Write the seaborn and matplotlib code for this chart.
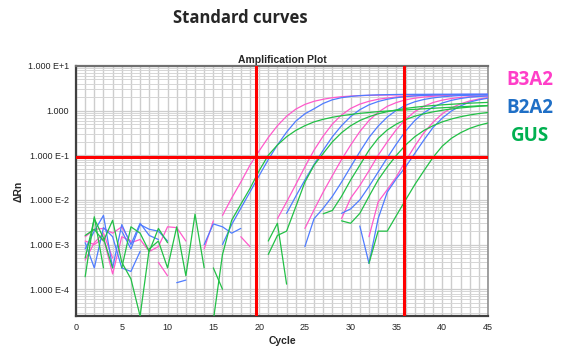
import pandas as pd
import numpy as np
import seaborn as sns
import matplotlib.pyplot as plt
from matplotlib.ticker import MultipleLocator, LogLocator, FixedLocator, FixedFormatter, NullFormatter

# colours of the three assays
pal = {'B3A2': '#ff5acb', 'B2A2': '#4f7cff', 'GUS': '#22c046'}
label_col = {'B3A2': '#ff3ec8', 'B2A2': '#1f6fc6', 'GUS': '#00b050'}

# amplification curves, (start cycle, values)
b3a2_1 = (16, [0.0045, 0.011, 0.025, 0.06, 0.125, 0.25, 0.46, 0.75, 1.08, 1.38, 1.62, 1.8, 1.95, 2.05,
               2.12, 2.17, 2.2, 2.22, 2.24, 2.25, 2.26, 2.27, 2.28, 2.28, 2.29, 2.29, 2.3, 2.3, 2.3, 2.3])
b3a2_2 = (22, [0.0038, 0.009, 0.022, 0.055, 0.13, 0.27, 0.5, 0.8, 1.12, 1.4, 1.62, 1.8, 1.92, 2.02,
               2.1, 2.15, 2.19, 2.22, 2.24, 2.26, 2.27, 2.28, 2.29, 2.3])
b3a2_3 = (25, [0.0023, 0.006, 0.015, 0.035, 0.08, 0.17, 0.34, 0.6, 0.92, 1.25, 1.52, 1.75, 1.9, 2.02,
               2.1, 2.16, 2.2, 2.23, 2.25, 2.27, 2.28])
b3a2_4 = (29, [0.0038, 0.011, 0.021, 0.045, 0.1, 0.2, 0.38, 0.64, 0.95, 1.25, 1.52, 1.72, 1.87, 1.98,
               2.05, 2.1, 2.13])
b3a2_5 = (32, [0.0015, 0.009, 0.017, 0.033, 0.075, 0.16, 0.32, 0.55, 0.85, 1.15, 1.42, 1.65, 1.82, 1.95])

b2a2_1 = (16, [0.001, 0.0028, 0.0065, 0.015, 0.035, 0.08, 0.17, 0.33, 0.58, 0.85, 1.1, 1.45, 1.75, 1.95,
               2.08, 2.17, 2.22, 2.26, 2.28, 2.3, 2.31, 2.32, 2.32, 2.33, 2.33, 2.33, 2.33, 2.33, 2.33, 2.33])
b2a2_2 = (23, [0.005, 0.012, 0.028, 0.062, 0.13, 0.26, 0.46, 0.74, 1.05, 1.35, 1.6, 1.8, 1.95, 2.06,
               2.14, 2.2, 2.24, 2.27, 2.29, 2.3, 2.31, 2.31, 2.32])
b2a2_3 = (25, [0.0009, 0.0038, 0.0065, 0.012, 0.025, 0.055, 0.12, 0.25, 0.45, 0.72, 1.02, 1.32, 1.58,
               1.78, 1.93, 2.04, 2.12, 2.18, 2.22, 2.25, 2.27])
b2a2_4 = (29, [0.005, 0.0063, 0.01, 0.02, 0.042, 0.088, 0.18, 0.35, 0.6, 0.9, 1.2, 1.48, 1.7, 1.87,
               2.0, 2.08, 2.14])
b2a2_5 = (31, [0.0026, 0.00038, 0.0038, 0.015, 0.03, 0.055, 0.11, 0.22, 0.42, 0.68, 0.98, 1.28, 1.55,
               1.75, 1.9])

gus_1 = (15, [2e-5, 0.0006, 0.0035, 0.008, 0.018, 0.045, 0.1, 0.17, 0.26, 0.36, 0.46, 0.56, 0.64, 0.71,
              0.77, 0.82, 0.87, 0.91, 0.95, 0.98, 1.01, 1.04, 1.07, 1.1, 1.13, 1.16, 1.19, 1.22, 1.25,
              1.28, 1.3])
gus_2 = (21, [0.0006, 0.0016, 0.002, 0.007, 0.025, 0.06, 0.11, 0.2, 0.32, 0.46, 0.6, 0.73, 0.85, 0.95,
              1.04, 1.12, 1.19, 1.25, 1.3, 1.35, 1.39, 1.43, 1.47, 1.5, 1.53])
gus_3 = (27, [0.0049, 0.0058, 0.012, 0.028, 0.06, 0.13, 0.24, 0.37, 0.5, 0.63, 0.75, 0.85, 0.94, 1.02,
              1.09, 1.15, 1.2, 1.25, 1.29])
gus_4 = (29, [0.0034, 0.003, 0.005, 0.012, 0.028, 0.055, 0.1, 0.17, 0.26, 0.36, 0.46, 0.56, 0.65,
              0.73, 0.8, 0.86, 0.91])
gus_5 = (32, [0.00038, 0.002, 0.002, 0.0045, 0.01, 0.022, 0.045, 0.09, 0.16, 0.24, 0.32, 0.4, 0.47, 0.53])

# baseline noise pieces
b3a2_noise = [(1, [1.5e-3, 2.2e-3, 2.3e-3, 1.8e-3, 2.5e-3, 1.1e-3, 1.3e-3, 7e-4]),
              (1, [1.2e-3, 1.0e-3, 1.4e-3, 2.2e-4, 1.5e-3, 1.2e-3]),
              (1, [4.5e-4, 1.1e-3, 1.8e-3, 5e-4]),
              (8, [7e-4, 9e-4, 2.5e-3, 2.4e-3, 1.2e-3]),
              (9, [4e-4, 2e-4]),
              (14, [8e-4, 3.4e-3]),
              (18, [1.5e-3, 9e-4])]
b2a2_noise = [(1, [8e-4, 2e-3, 4.5e-3, 3e-4, 2.8e-3, 1e-3, 3e-3, 1.6e-3, 1.3e-3]),
              (1, [1.1e-3, 3e-4, 2.4e-3, 1.5e-3, 3e-4, 2.5e-4, 7e-4]),
              (5, [2e-3, 8e-4, 2.8e-3, 2.2e-3, 2e-3, 1.2e-3]),
              (11, [1.4e-4, 1.6e-4]),
              (14, [1e-3, 2.9e-3, 2.5e-3, 1.8e-3, 2.3e-3])]
gus_noise = [(1, [1.9e-4, 4.2e-3, 3e-4]),
             (1, [1.6e-3, 2.2e-3, 1.2e-3, 3.5e-3, 4e-4, 1.7e-4, 2.5e-5, 8e-4, 1.2e-3, 3e-4, 2.5e-3, 2e-4,
                  4.8e-3, 3e-4]),
             (1, [5e-4, 3.8e-3, 1.4e-3, 3e-4]),
             (5, [3e-4, 2.5e-3, 1.8e-3, 7e-4, 2.3e-3, 1.1e-3]),
             (15, [3e-4, 1e-4]),
             (21, [1.2e-3, 3e-3, 1.3e-4])]

threshold = 0.09
ct_lines = [19.7, 35.8]
ytick_vals = [1e-4, 1e-3, 1e-2, 1e-1, 1, 10]
ytick_labels = ['1.000 E-4', '1.000 E-3', '1.000 E-2', '1.000 E-1', '1.000', '1.000 E+1']

# long table
rows = []
groups = {'B3A2': b3a2_noise + [b3a2_1, b3a2_2, b3a2_3, b3a2_4, b3a2_5],
          'B2A2': b2a2_noise + [b2a2_1, b2a2_2, b2a2_3, b2a2_4, b2a2_5],
          'GUS': gus_noise + [gus_1, gus_2, gus_3, gus_4, gus_5]}
uid = 0
for gene, pieces in groups.items():
    for start, vals in pieces:
        for k, v in enumerate(vals):
            rows.append((gene, uid, start + k, v))
        uid += 1
df = pd.DataFrame(rows, columns=['gene', 'curve', 'cycle', 'dRn'])

sns.set_style('white')
plt.rcParams['font.family'] = ['Liberation Sans', 'DejaVu Sans']

fig = plt.figure(figsize=(5.65, 3.56), dpi=100)
ax = fig.add_axes([76 / 565, 1 - 316 / 356, (488 - 76) / 565, (316 - 66) / 356])

sns.lineplot(data=df, x='cycle', y='dRn', hue='gene', units='curve', estimator=None,
             palette=pal, lw=0.9, legend=False, ax=ax, zorder=3)

ax.set_yscale('log')
ax.set_xlim(0, 45)
ax.set_ylim(10 ** -4.6, 10)

ax.xaxis.set_major_locator(MultipleLocator(5))
ax.xaxis.set_minor_locator(MultipleLocator(1))
ax.yaxis.set_major_locator(FixedLocator(ytick_vals))
ax.yaxis.set_major_formatter(FixedFormatter(ytick_labels))
ax.yaxis.set_minor_locator(LogLocator(base=10, subs=np.arange(2, 10)))
ax.yaxis.set_minor_formatter(NullFormatter())
ax.grid(axis='x', which='both', color='#cdcdcd', lw=1.0, zorder=0)
ax.grid(axis='y', which='major', color='#cdcdcd', lw=0.9, zorder=0)
ax.grid(axis='y', which='minor', color='#d6d6d6', lw=0.7, zorder=0)
ax.tick_params(axis='both', which='major', labelsize=6.5, length=3, width=0.8, color='#555555', pad=2)
ax.tick_params(axis='both', which='minor', length=0)

for s in ['left', 'bottom']:
    ax.spines[s].set_color('#404040')
    ax.spines[s].set_linewidth(1.6)
ax.spines['top'].set_color('#707070')
ax.spines['top'].set_linewidth(1.6)
ax.spines['right'].set_color('#909090')
ax.spines['right'].set_linewidth(1.2)

# threshold and Ct markers
ax.axhline(threshold, color='#ff0000', lw=2.2, zorder=4)
for c in ct_lines:
    ax.axvline(c, color='#ff0000', lw=2.2, zorder=4)

ax.set_xlabel('Cycle', fontsize=7.5, fontweight='bold', labelpad=3)
ax.set_ylabel('ΔRn', fontsize=7.5, fontweight='bold', labelpad=3)
ax.set_title('Amplification Plot', fontsize=7.5, fontweight='bold', pad=2)

fig.text(0.425, 0.95, 'Standard curves', ha='center', va='center', fontsize=12,
         fontweight='bold', family=['Open Sans', 'DejaVu Sans'])
for i, gene in enumerate(['B3A2', 'B2A2', 'GUS']):
    fig.text(0.938, 1 - (80 + 28 * i) / 356, gene, ha='center', va='center', fontsize=13.5,
             fontweight='bold', color=label_col[gene], family=['Open Sans', 'DejaVu Sans'])

plt.savefig('out.png', dpi=100)
plt.close()
